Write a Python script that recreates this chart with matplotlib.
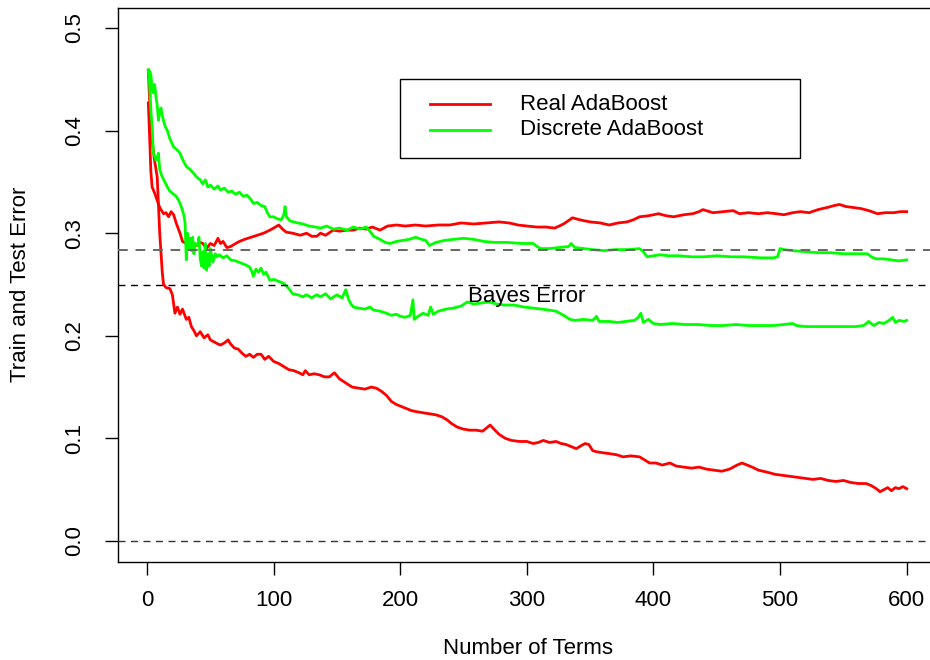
import matplotlib.pyplot as plt
from matplotlib.patches import Rectangle
from matplotlib.lines import Line2D

plt.rcParams['font.family'] = ['Liberation Sans', 'DejaVu Sans']

# ------------------------------------------------------------
# valores (error vs numero de terminos)
# ------------------------------------------------------------
real_test_x = [1, 2, 3, 4, 6, 8, 10, 13, 15, 17, 19, 21, 23, 26, 28, 31, 34, 37, 39, 42, 44, 47, 50,
               53, 56, 58, 60, 63, 66, 70, 73, 77, 82, 87, 92, 97, 100, 104, 107, 110, 115, 121, 126,
               130, 134, 137, 141, 147, 152, 158, 163, 168, 173, 178, 184, 190, 197, 204, 212, 220,
               230, 239, 248, 258, 268, 278, 286, 293, 300, 308, 315, 322, 329, 336, 342, 350, 358,
               365, 372, 379, 384, 389, 396, 404, 410, 416, 424, 431, 436, 439, 447, 455, 463, 468,
               475, 483, 490, 497, 503, 510, 516, 523, 530, 537, 543, 547, 552, 558, 564, 570, 577,
               583, 590, 595, 600]
real_test_y = [0.427, 0.395, 0.360, 0.345, 0.339, 0.332, 0.325, 0.319, 0.320, 0.316, 0.321, 0.318,
               0.310, 0.300, 0.292, 0.290, 0.292, 0.289, 0.288, 0.291, 0.290, 0.285, 0.290, 0.288,
               0.295, 0.290, 0.292, 0.286, 0.287, 0.290, 0.292, 0.294, 0.296, 0.298, 0.300, 0.303,
               0.305, 0.308, 0.304, 0.301, 0.300, 0.298, 0.300, 0.297, 0.297, 0.300, 0.298, 0.303,
               0.302, 0.303, 0.303, 0.305, 0.304, 0.306, 0.303, 0.307, 0.308, 0.307, 0.308, 0.307,
               0.308, 0.308, 0.310, 0.309, 0.310, 0.311, 0.310, 0.308, 0.307, 0.306, 0.306, 0.305,
               0.309, 0.315, 0.313, 0.311, 0.310, 0.308, 0.310, 0.311, 0.313, 0.316, 0.317, 0.319,
               0.317, 0.316, 0.318, 0.319, 0.321, 0.323, 0.320, 0.321, 0.322, 0.319, 0.320, 0.319,
               0.320, 0.319, 0.318, 0.320, 0.321, 0.320, 0.323, 0.325, 0.327, 0.328, 0.326, 0.325,
               0.324, 0.322, 0.319, 0.320, 0.320, 0.321, 0.321]

real_train_x = [1, 2, 4, 6, 8, 10, 12, 13, 15, 18, 20, 22, 24, 26, 28, 31, 33, 35, 37, 39, 42, 45,
                48, 50, 53, 56, 58, 61, 64, 66, 69, 72, 75, 78, 81, 84, 87, 90, 93, 96, 100, 104,
                108, 112, 116, 120, 123, 125, 128, 132, 136, 140, 144, 148, 152, 157, 162, 167, 172,
                177, 181, 185, 189, 193, 197, 201, 205, 209, 213, 218, 223, 228, 233, 237, 241, 245,
                250, 255, 260, 265, 268, 271, 274, 278, 283, 288, 294, 300, 305, 309, 313, 318, 323,
                327, 331, 335, 339, 343, 346, 349, 352, 355, 360, 366, 371, 376, 382, 389, 393, 397,
                402, 407, 413, 418, 424, 430, 436, 442, 448, 454, 460, 466, 470, 474, 478, 483, 490,
                496, 502, 508, 514, 520, 526, 532, 538, 544, 550, 556, 562, 568, 572, 576, 579, 582,
                585, 588, 591, 594, 597, 600]
real_train_y = [0.459, 0.430, 0.390, 0.370, 0.355, 0.300, 0.262, 0.250, 0.247, 0.246, 0.240, 0.222,
                0.228, 0.221, 0.226, 0.216, 0.218, 0.209, 0.205, 0.200, 0.204, 0.198, 0.201, 0.196,
                0.194, 0.192, 0.191, 0.193, 0.196, 0.192, 0.188, 0.187, 0.183, 0.180, 0.182, 0.179,
                0.182, 0.182, 0.177, 0.180, 0.175, 0.173, 0.170, 0.167, 0.166, 0.164, 0.162, 0.166,
                0.162, 0.163, 0.162, 0.160, 0.160, 0.164, 0.158, 0.154, 0.150, 0.149, 0.148, 0.150,
                0.149, 0.146, 0.142, 0.136, 0.133, 0.131, 0.129, 0.127, 0.126, 0.125, 0.124, 0.123,
                0.121, 0.118, 0.114, 0.111, 0.109, 0.108, 0.108, 0.107, 0.110, 0.113, 0.109, 0.104,
                0.100, 0.098, 0.097, 0.097, 0.095, 0.096, 0.098, 0.096, 0.097, 0.095, 0.094, 0.092,
                0.090, 0.093, 0.095, 0.094, 0.088, 0.087, 0.086, 0.085, 0.084, 0.082, 0.083, 0.082,
                0.079, 0.076, 0.076, 0.074, 0.076, 0.073, 0.072, 0.071, 0.072, 0.070, 0.069, 0.068,
                0.070, 0.074, 0.076, 0.074, 0.072, 0.069, 0.067, 0.065, 0.064, 0.063, 0.062, 0.061,
                0.060, 0.061, 0.059, 0.058, 0.059, 0.057, 0.056, 0.056, 0.054, 0.051, 0.048, 0.050,
                0.052, 0.049, 0.052, 0.051, 0.053, 0.051]

disc_test_x = [1, 2, 3, 4, 5, 6, 7, 8, 9, 10, 11, 12, 14, 16, 18, 21, 24, 26, 28, 31, 34, 37, 39,
               42, 44, 46, 48, 50, 53, 56, 58, 61, 64, 67, 70, 73, 76, 79, 82, 84, 87, 90, 93, 95,
               97, 100, 103, 106, 108, 109, 110, 113, 116, 119, 123, 128, 133, 137, 142, 147, 152,
               158, 163, 168, 173, 176, 179, 184, 188, 192, 197, 202, 207, 212, 217, 220, 223, 228,
               235, 242, 250, 258, 266, 275, 285, 295, 305, 308, 311, 318, 325, 333, 335, 338, 345,
               352, 361, 370, 380, 389, 392, 395, 400, 405, 412, 420, 430, 440, 450, 461, 472, 485,
               495, 498, 500, 503, 510, 520, 530, 540, 550, 560, 569, 572, 576, 582, 588, 594, 600]
disc_test_y = [0.459, 0.458, 0.455, 0.440, 0.437, 0.445, 0.433, 0.425, 0.410, 0.418, 0.422, 0.415,
               0.405, 0.400, 0.392, 0.384, 0.381, 0.378, 0.372, 0.365, 0.362, 0.358, 0.355, 0.352,
               0.348, 0.352, 0.345, 0.347, 0.343, 0.346, 0.342, 0.344, 0.340, 0.341, 0.338, 0.340,
               0.336, 0.337, 0.333, 0.329, 0.330, 0.327, 0.326, 0.320, 0.316, 0.316, 0.314, 0.313,
               0.318, 0.326, 0.316, 0.312, 0.311, 0.310, 0.309, 0.307, 0.306, 0.305, 0.307, 0.304,
               0.305, 0.303, 0.306, 0.304, 0.306, 0.302, 0.297, 0.294, 0.291, 0.290, 0.292, 0.293,
               0.294, 0.296, 0.294, 0.293, 0.288, 0.291, 0.293, 0.294, 0.295, 0.294, 0.292, 0.291,
               0.291, 0.290, 0.290, 0.287, 0.285, 0.285, 0.286, 0.287, 0.290, 0.286, 0.285, 0.284,
               0.283, 0.284, 0.284, 0.285, 0.282, 0.277, 0.278, 0.279, 0.278, 0.278, 0.277, 0.277,
               0.278, 0.277, 0.277, 0.276, 0.276, 0.277, 0.285, 0.284, 0.283, 0.282, 0.281, 0.281,
               0.280, 0.280, 0.280, 0.277, 0.275, 0.275, 0.274, 0.273, 0.274]

disc_train_x = [1, 2, 3, 4, 5, 6, 7, 8, 9, 10, 11, 12, 14, 16, 18, 20, 23, 25, 27, 29, 30, 31, 32,
                33, 34, 35, 36, 37, 38, 40, 41, 42, 43, 44, 45, 46, 47, 48, 49, 50, 52, 54, 55, 57,
                60, 63, 66, 70, 74, 78, 81, 83, 84, 86, 88, 90, 92, 94, 97, 100, 104, 108, 112, 115,
                119, 123, 126, 130, 134, 137, 141, 145, 150, 154, 157, 159, 161, 163, 167, 172, 176,
                179, 184, 189, 193, 197, 200, 204, 208, 210, 211, 214, 218, 222, 224, 226, 230, 236,
                242, 248, 253, 258, 264, 270, 276, 282, 290, 298, 305, 312, 318, 323, 329, 334, 338,
                345, 352, 355, 357, 365, 372, 378, 385, 388, 390, 392, 396, 400, 405, 415, 425, 435,
                445, 455, 465, 475, 485, 495, 503, 510, 513, 520, 530, 540, 550, 560, 566, 570, 574,
                578, 582, 586, 589, 591, 594, 598, 600]
disc_train_y = [0.459, 0.445, 0.420, 0.404, 0.378, 0.375, 0.371, 0.373, 0.378, 0.362, 0.358, 0.355,
                0.350, 0.345, 0.341, 0.339, 0.336, 0.332, 0.326, 0.318, 0.310, 0.274, 0.300, 0.285,
                0.295, 0.283, 0.296, 0.280, 0.290, 0.288, 0.296, 0.275, 0.268, 0.282, 0.266, 0.290,
                0.264, 0.280, 0.268, 0.285, 0.272, 0.280, 0.277, 0.279, 0.276, 0.278, 0.274, 0.273,
                0.271, 0.269, 0.267, 0.262, 0.258, 0.265, 0.262, 0.266, 0.260, 0.262, 0.254, 0.255,
                0.253, 0.251, 0.246, 0.241, 0.240, 0.238, 0.240, 0.237, 0.240, 0.238, 0.241, 0.236,
                0.240, 0.237, 0.245, 0.236, 0.231, 0.228, 0.227, 0.226, 0.228, 0.225, 0.224, 0.222,
                0.220, 0.221, 0.219, 0.218, 0.220, 0.235, 0.216, 0.219, 0.222, 0.220, 0.228, 0.221,
                0.224, 0.226, 0.227, 0.229, 0.233, 0.231, 0.232, 0.233, 0.231, 0.230, 0.230, 0.228,
                0.227, 0.226, 0.225, 0.224, 0.220, 0.216, 0.215, 0.216, 0.215, 0.219, 0.214, 0.214,
                0.213, 0.214, 0.215, 0.218, 0.222, 0.213, 0.216, 0.212, 0.211, 0.212, 0.211, 0.211,
                0.210, 0.210, 0.211, 0.210, 0.210, 0.210, 0.211, 0.212, 0.210, 0.209, 0.209, 0.209,
                0.209, 0.209, 0.210, 0.214, 0.210, 0.213, 0.212, 0.215, 0.218, 0.213, 0.215, 0.214,
                0.215]

# lineas horizontales de referencia (abline)
ref_lines = [0.0, 0.25, 0.2834]
ref_colors = ['#333333', 'black', '#666666']
ref_widths = [1.0, 1.0, 1.4]

x_ticks = [0, 100, 200, 300, 400, 500, 600]
y_ticks = [0.0, 0.1, 0.2, 0.3, 0.4, 0.5]
y_ticklabels = ['0.0', '0.1', '0.2', '0.3', '0.4', '0.5']

legend_labels = ['Real AdaBoost', 'Discrete AdaBoost']
RED, GREEN = '#FF0000', '#00FF00'

# ============================================================
# Grafico
# ============================================================
fig = plt.figure(figsize=(9.3, 6.6), dpi=100)
ax = fig.add_axes([118 / 930, 98.5 / 660, 819 / 930, 554 / 660])

ax.plot(real_test_x, real_test_y, color=RED, lw=2, zorder=2)
ax.plot(real_train_x, real_train_y, color=RED, lw=2, zorder=2)
ax.plot(disc_test_x, disc_test_y, color=GREEN, lw=2, zorder=2)
ax.plot(disc_train_x, disc_train_y, color=GREEN, lw=2, zorder=2)

for yv, col, w in zip(ref_lines, ref_colors, ref_widths):
    ax.axhline(yv, color=col, lw=w, linestyle=(0, (5, 4)), zorder=3)

ax.text(300, 0.238, 'Bayes Error', ha='center', va='center', fontsize=16)

ax.set_xlim(-22.96, 623.96)
ax.set_ylim(-0.02, 0.52)
ax.set_xticks(x_ticks)
ax.set_yticks(y_ticks)
ax.set_yticklabels(y_ticklabels, rotation=90, va='center')
ax.tick_params(direction='out', length=9.5, width=1, labelsize=16, color='black')
ax.tick_params(axis='x', pad=11)
ax.tick_params(axis='y', pad=14)
for s in ax.spines.values():
    s.set_linewidth(1)

# leyenda manual (caja ancha como en R)
ax.add_patch(Rectangle((0.3443, 0.7283), 0.4884, 0.1427, transform=ax.transAxes,
                       fill=False, edgecolor='black', lw=1, zorder=4))
for row_y, col, lab in zip([0.8258, 0.7789], [RED, GREEN], legend_labels):
    ax.add_line(Line2D([0.381, 0.4542], [row_y, row_y], transform=ax.transAxes,
                       color=col, lw=2, zorder=4))
    ax.text(0.4908, row_y, lab, transform=ax.transAxes, ha='left', va='center',
            fontsize=16, zorder=4)

fig.text(527.5 / 930, 1 - 648 / 660, 'Number of Terms', ha='center', va='center', fontsize=16)
fig.text(20 / 930, 1 - 284.5 / 660, 'Train and Test Error', ha='center', va='center',
         rotation=90, fontsize=16)

fig.savefig('out.png', dpi=100)
